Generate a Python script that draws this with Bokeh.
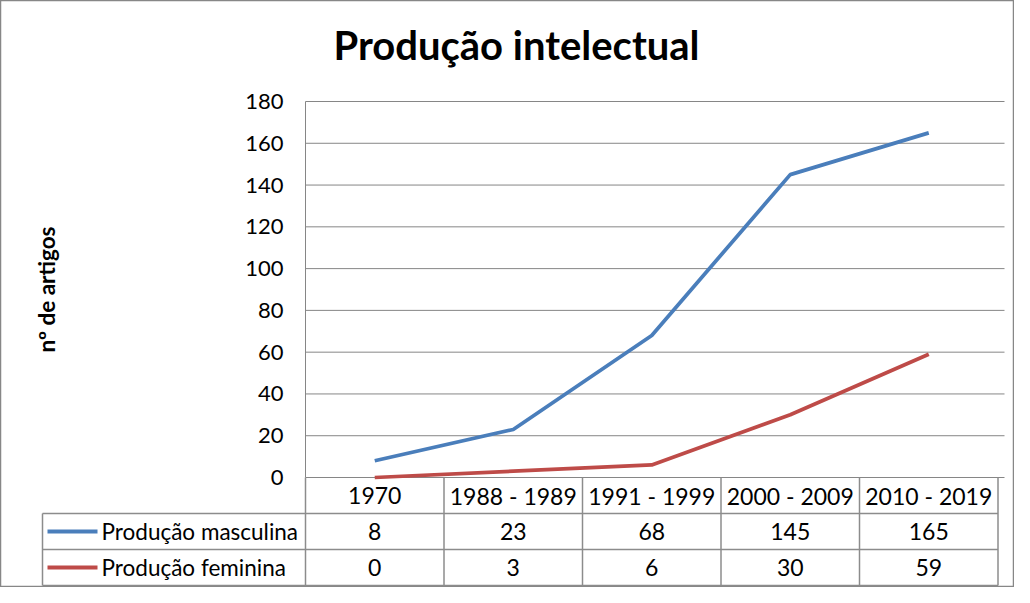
from bokeh.plotting import figure
from bokeh.models import Range1d, FixedTicker, Label
from bokeh.core.properties import value
from bokeh.embed import file_html
from bokeh.resources import INLINE

# ---- data ----
categories = ["1970", "1988 - 1989", "1991 - 1999", "2000 - 2009", "2010 - 2019"]
series_names = ["Produção masculina", "Produção feminina"]
masculina = [8, 23, 68, 145, 165]
feminina = [0, 3, 6, 30, 59]
y_ticks = [0, 20, 40, 60, 80, 100, 120, 140, 160, 180]
y_max = 180

# ---- styles / layout (pixels) ----
BLUE = "#4A7EBB"
RED = "#BE4B48"
GRID = "#868686"
TABLE = "#8C8C8C"
FONT = "Lato"

W, H = 1014, 587
CW = 138.5          # px per category column
PLOT_LEFT = 305
PLOT_RIGHT = 1004
PLOT_TOP = 101      # where y_max sits
PLOT_BOTTOM = 477   # where 0 sits
ROW_H = 36.0
LEG_LEFT = 42
n = len(categories)
n_rows = 1 + len(series_names)

ppv = (PLOT_BOTTOM - PLOT_TOP) / y_max   # px per value unit


def u_of(px):
    return (px - PLOT_LEFT) / CW


def row_y(k):
    # table row boundary / centre k (in rows below the plot) in value units
    return -k * ROW_H / ppv


xs = [i + 0.5 for i in range(n)]

p = figure(width=W, height=H, output_backend="svg", toolbar_location=None,
           x_range=Range1d(u_of(0), u_of(W)),
           y_range=Range1d((PLOT_BOTTOM - H) / ppv, PLOT_BOTTOM / ppv),
           x_axis_location=None, min_border=0)
p.outline_line_color = "#878787"
p.outline_line_width = 1.5
p.background_fill_color = "white"
p.border_fill_color = "white"
p.xgrid.visible = False
p.ygrid.visible = False

# horizontal gridlines across the plot area
u_end = u_of(PLOT_RIGHT)
p.segment([0] * len(y_ticks), y_ticks, [u_end] * len(y_ticks), y_ticks,
          line_color=GRID, line_width=1)

ax = p.yaxis[0]
ax.fixed_location = 0
ax.bounds = (0, y_max)
ax.ticker = FixedTicker(ticks=y_ticks)
ax.axis_line_color = GRID
ax.major_tick_line_color = None
ax.minor_tick_line_color = None
ax.major_tick_out = 0
ax.major_tick_in = 0
ax.major_label_standoff = 22
ax.major_label_text_font = FONT
ax.major_label_text_font_size = "22px"
ax.major_label_text_color = "#000000"
ax.axis_label = "nº de artigos"
ax.axis_label_text_font = FONT
ax.axis_label_text_font_size = "22.5px"
ax.axis_label_text_font_style = "bold"
ax.axis_label_text_color = "#000000"
ax.axis_label_standoff = 182

title = Label(x=516, y=H - 44, x_units="screen", y_units="screen",
              text="Produção intelectual", text_align="center",
              text_baseline="alphabetic", text_font=FONT,
              text_font_size="40px", text_font_style="bold", text_color="#000000")
p.add_layout(title)

p.line(xs, masculina, line_color=BLUE, line_width=3.75)
p.line(xs, feminina, line_color=RED, line_width=3.75)

# ---------------- data table ----------------
leg_left = u_of(LEG_LEFT)
hy = [row_y(k) for k in range(1, n_rows + 1)]
p.segment([leg_left] * n_rows, hy, [n] * n_rows, hy, line_color=TABLE, line_width=1.5)
vx = list(range(n + 1)) + [leg_left]
vy0 = [row_y(0)] * (n + 1) + [row_y(1)]
vy1 = [row_y(n_rows)] * (n + 2)
p.segment(vx, vy0, vx, vy1, line_color=TABLE, line_width=1.5)

p.text(xs, [row_y(0.5)] * n, text=categories, text_align="center", text_baseline="middle",
       text_font=value(FONT), text_font_size="23px", text_color="#000000")
for r, vals in enumerate([masculina, feminina]):
    p.text(xs, [row_y(r + 1.5)] * n, text=[str(v) for v in vals], text_align="center",
           text_baseline="middle", text_font=value(FONT), text_font_size="23px",
           text_color="#000000")

key_x0 = u_of(LEG_LEFT + 5)
key_x1 = u_of(LEG_LEFT + 55)
name_x = u_of(LEG_LEFT + 59)
ky = [row_y(1.5), row_y(2.5)]
p.segment([key_x0] * 2, ky, [key_x1] * 2, ky, line_color=[BLUE, RED], line_width=4)
p.text([name_x] * 2, ky, text=series_names, text_align="left", text_baseline="middle",
       text_font=value(FONT), text_font_size="22.5px", text_color="#000000")

open("out.html", "w").write(file_html(p, INLINE))
